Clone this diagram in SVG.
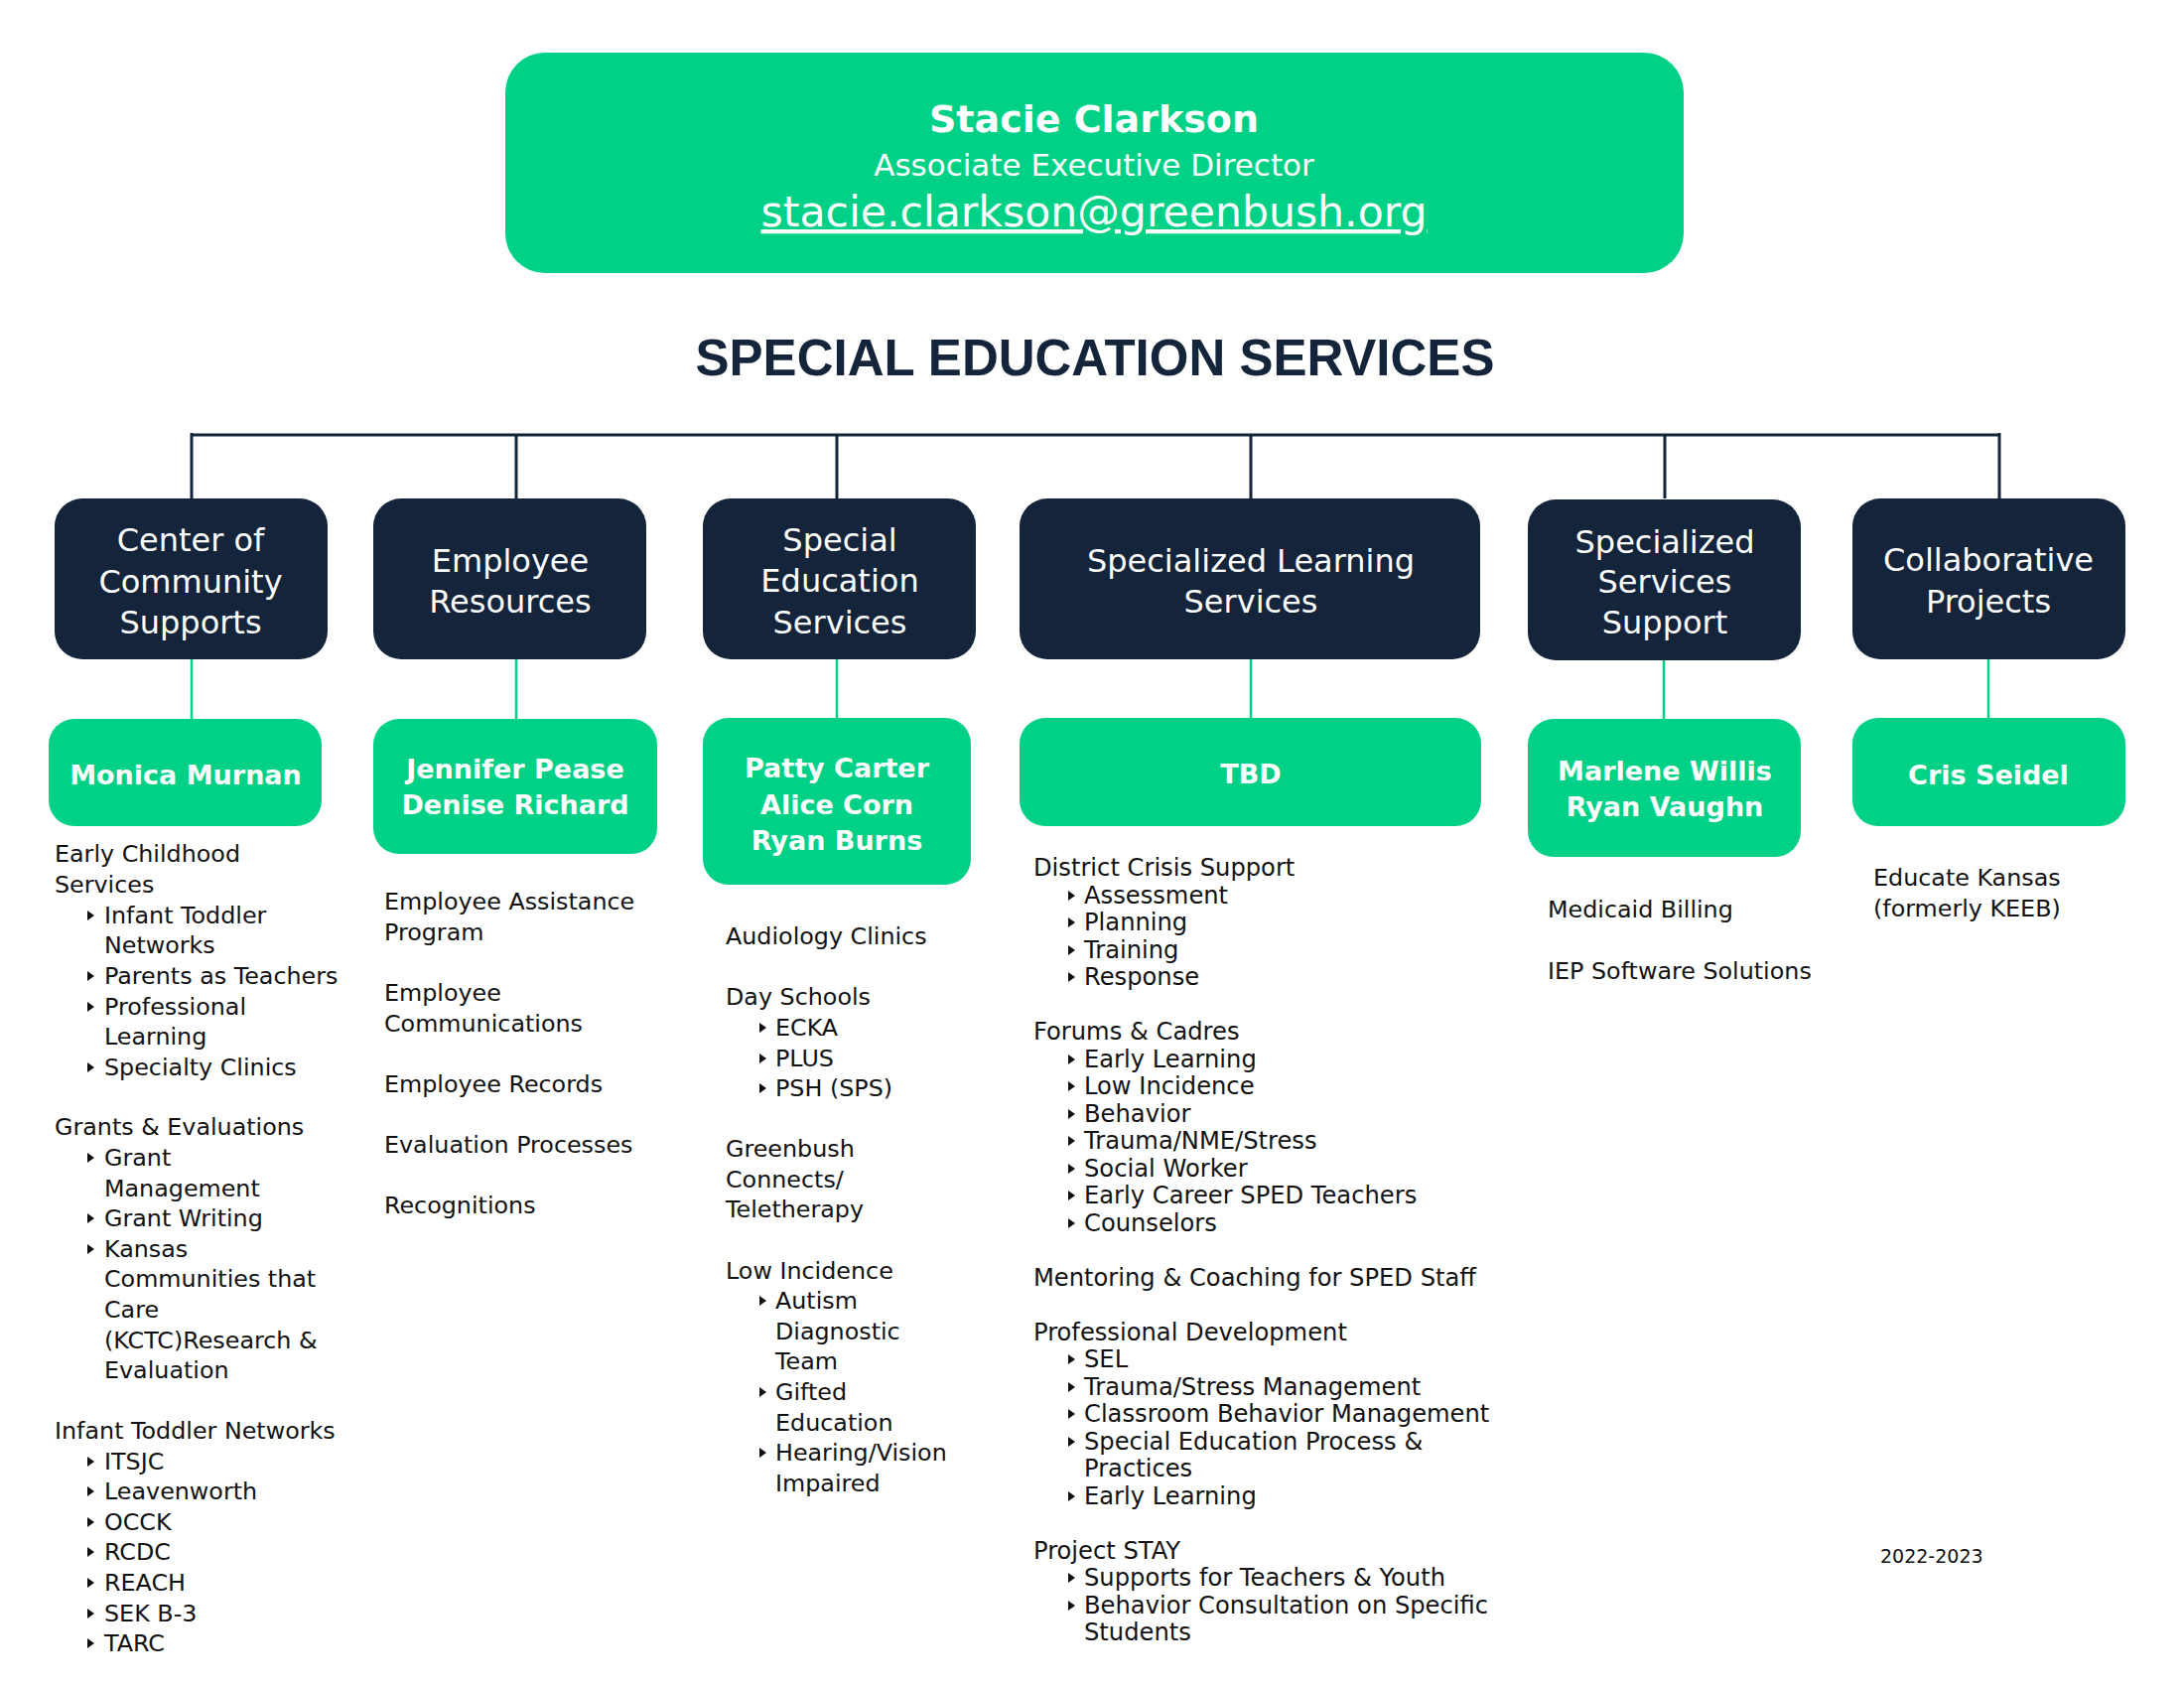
<svg xmlns="http://www.w3.org/2000/svg" width="2200" height="1700" viewBox="0 0 2200 1700">
<style>
.bg{fill:#ffffff}
.dark{fill:#14243A}
.green{fill:#00D186}
.dt{font-family:"DejaVu Sans",sans-serif;font-size:32px;fill:#ffffff;text-anchor:middle}
.gt{font-family:"DejaVu Sans",sans-serif;font-size:27px;font-weight:bold;fill:#ffffff;text-anchor:middle}
.bt{font-family:"DejaVu Sans",sans-serif;font-size:23.8px;fill:#111111}
.bt4{font-family:"DejaVu Sans",sans-serif;font-size:24.2px;fill:#111111}
.tline{stroke:#14243A;stroke-width:3;fill:none}
.gline{stroke:#00D186;stroke-width:2.5;fill:none}
</style>
<defs>
<polygon id="tri" points="0,-5 7,0 0,5" fill="#111111"/>
</defs>
<rect class="bg" x="0" y="0" width="2200" height="1700"/>

<g id="connectors">
<path class="tline" d="M192,438 H2015"/>
<path class="tline" d="M193,436 V502 M520,438 V502 M843,438 V502 M1260,438 V502 M1677,438 V502 M2014,436 V502"/>
<path class="gline" d="M193,664 V724 M520,664 V724 M843,664 V724 M1260,664 V724 M1676,664 V724 M2003,664 V724"/>
</g>

<g id="top">
<rect class="green" x="509" y="53" width="1187" height="222" rx="40"/>
<text x="1102" y="133" font-family="'DejaVu Sans',sans-serif" font-size="38" font-weight="bold" fill="#fff" text-anchor="middle">Stacie Clarkson</text>
<text x="1102" y="177" font-family="'DejaVu Sans',sans-serif" font-size="31" fill="#fff" text-anchor="middle">Associate Executive Director</text>
<text x="1102" y="228" font-family="'DejaVu Sans',sans-serif" font-size="42.6" fill="#fff" text-anchor="middle" text-decoration="underline">stacie.clarkson@greenbush.org</text>
</g>

<g id="title">
<text x="1103" y="378" font-family="'Liberation Sans',Arial,sans-serif" font-size="51" font-weight="bold" fill="#14243A" text-anchor="middle">SPECIAL EDUCATION SERVICES</text>
</g>

<g id="dept-community">
<rect class="dark" x="55" y="502" width="275" height="162" rx="28"/>
<text class="dt" x="192" y="555">Center of</text>
<text class="dt" x="192" y="597">Community</text>
<text class="dt" x="192" y="638">Supports</text>
</g>
<g id="dept-employee">
<rect class="dark" x="376" y="502" width="275" height="162" rx="28"/>
<text class="dt" x="514" y="576">Employee</text>
<text class="dt" x="514" y="617">Resources</text>
</g>
<g id="dept-special">
<rect class="dark" x="708" y="502" width="275" height="162" rx="28"/>
<text class="dt" x="846" y="555">Special</text>
<text class="dt" x="846" y="596">Education</text>
<text class="dt" x="846" y="638">Services</text>
</g>
<g id="dept-learning">
<rect class="dark" x="1027" y="502" width="464" height="162" rx="28"/>
<text class="dt" x="1260" y="576">Specialized Learning</text>
<text class="dt" x="1260" y="617">Services</text>
</g>
<g id="dept-support">
<rect class="dark" x="1539" y="503" width="275" height="162" rx="28"/>
<text class="dt" x="1677" y="557">Specialized</text>
<text class="dt" x="1677" y="597">Services</text>
<text class="dt" x="1677" y="638">Support</text>
</g>
<g id="dept-collab">
<rect class="dark" x="1866" y="502" width="275" height="162" rx="28"/>
<text class="dt" x="2003" y="575">Collaborative</text>
<text class="dt" x="2003" y="617">Projects</text>
</g>

<g id="lead-monica">
<rect class="green" x="49" y="724" width="275" height="108" rx="26"/>
<text class="gt" x="187" y="790">Monica Murnan</text>
</g>
<g id="lead-jennifer">
<rect class="green" x="376" y="724" width="286" height="136" rx="26"/>
<text class="gt" x="519" y="784">Jennifer Pease</text>
<text class="gt" x="519" y="820">Denise Richard</text>
</g>
<g id="lead-patty">
<rect class="green" x="708" y="723" width="270" height="168" rx="26"/>
<text class="gt" x="843" y="783">Patty Carter</text>
<text class="gt" x="843" y="820">Alice Corn</text>
<text class="gt" x="843" y="856">Ryan Burns</text>
</g>
<g id="lead-tbd">
<rect class="green" x="1027" y="723" width="465" height="109" rx="26"/>
<text class="gt" x="1260" y="789">TBD</text>
</g>
<g id="lead-marlene">
<rect class="green" x="1539" y="724" width="275" height="139" rx="26"/>
<text class="gt" x="1677" y="786">Marlene Willis</text>
<text class="gt" x="1677" y="822">Ryan Vaughn</text>
</g>
<g id="lead-cris">
<rect class="green" x="1866" y="723" width="275" height="109" rx="26"/>
<text class="gt" x="2003" y="790">Cris Seidel</text>
</g>

<g id="list-community" class="bt">
<text x="55" y="868">Early Childhood</text>
<text x="55" y="899">Services</text>
<use href="#tri" x="88" y="922"/><text x="105" y="930">Infant Toddler</text>
<text x="105" y="960">Networks</text>
<use href="#tri" x="88" y="983"/><text x="105" y="991">Parents as Teachers</text>
<use href="#tri" x="88" y="1014"/><text x="105" y="1022">Professional</text>
<text x="105" y="1052">Learning</text>
<use href="#tri" x="88" y="1075"/><text x="105" y="1083">Specialty Clinics</text>
<text x="55" y="1143">Grants &amp; Evaluations</text>
<use href="#tri" x="88" y="1166"/><text x="105" y="1174">Grant</text>
<text x="105" y="1205">Management</text>
<use href="#tri" x="88" y="1227"/><text x="105" y="1235">Grant Writing</text>
<use href="#tri" x="88" y="1258"/><text x="105" y="1266">Kansas</text>
<text x="105" y="1296">Communities that</text>
<text x="105" y="1327">Care</text>
<text x="105" y="1358">(KCTC)Research &amp;</text>
<text x="105" y="1388">Evaluation</text>
<text x="55" y="1449">Infant Toddler Networks</text>
<use href="#tri" x="88" y="1472"/><text x="105" y="1480">ITSJC</text>
<use href="#tri" x="88" y="1502"/><text x="105" y="1510">Leavenworth</text>
<use href="#tri" x="88" y="1533"/><text x="105" y="1541">OCCK</text>
<use href="#tri" x="88" y="1563"/><text x="105" y="1571">RCDC</text>
<use href="#tri" x="88" y="1594"/><text x="105" y="1602">REACH</text>
<use href="#tri" x="88" y="1625"/><text x="105" y="1633">SEK B-3</text>
<use href="#tri" x="88" y="1655"/><text x="105" y="1663">TARC</text>
</g>

<g id="list-employee" class="bt">
<text x="387" y="916">Employee Assistance</text>
<text x="387" y="947">Program</text>
<text x="387" y="1008">Employee</text>
<text x="387" y="1039">Communications</text>
<text x="387" y="1100">Employee Records</text>
<text x="387" y="1161">Evaluation Processes</text>
<text x="387" y="1222">Recognitions</text>
</g>

<g id="list-special" class="bt">
<text x="731" y="951">Audiology Clinics</text>
<text x="731" y="1012">Day Schools</text>
<use href="#tri" x="765" y="1035"/><text x="781" y="1043">ECKA</text>
<use href="#tri" x="765" y="1066"/><text x="781" y="1074">PLUS</text>
<use href="#tri" x="765" y="1096"/><text x="781" y="1104">PSH (SPS)</text>
<text x="731" y="1165">Greenbush</text>
<text x="731" y="1196">Connects/</text>
<text x="731" y="1226">Teletherapy</text>
<text x="731" y="1288">Low Incidence</text>
<use href="#tri" x="765" y="1310"/><text x="781" y="1318">Autism</text>
<text x="781" y="1349">Diagnostic</text>
<text x="781" y="1379">Team</text>
<use href="#tri" x="765" y="1402"/><text x="781" y="1410">Gifted</text>
<text x="781" y="1441">Education</text>
<use href="#tri" x="765" y="1463"/><text x="781" y="1471">Hearing/Vision</text>
<text x="781" y="1502">Impaired</text>
</g>

<g id="list-learning" class="bt4">
<text x="1041" y="882">District Crisis Support</text>
<use href="#tri" x="1076" y="902"/><text x="1092" y="910">Assessment</text>
<use href="#tri" x="1076" y="929"/><text x="1092" y="937">Planning</text>
<use href="#tri" x="1076" y="957"/><text x="1092" y="965">Training</text>
<use href="#tri" x="1076" y="984"/><text x="1092" y="992">Response</text>
<text x="1041" y="1047">Forums &amp; Cadres</text>
<use href="#tri" x="1076" y="1067"/><text x="1092" y="1075">Early Learning</text>
<use href="#tri" x="1076" y="1094"/><text x="1092" y="1102">Low Incidence</text>
<use href="#tri" x="1076" y="1122"/><text x="1092" y="1130">Behavior</text>
<use href="#tri" x="1076" y="1149"/><text x="1092" y="1157">Trauma/NME/Stress</text>
<use href="#tri" x="1076" y="1177"/><text x="1092" y="1185">Social Worker</text>
<use href="#tri" x="1076" y="1204"/><text x="1092" y="1212">Early Career SPED Teachers</text>
<use href="#tri" x="1076" y="1232"/><text x="1092" y="1240">Counselors</text>
<text x="1041" y="1295">Mentoring &amp; Coaching for SPED Staff</text>
<text x="1041" y="1350">Professional Development</text>
<use href="#tri" x="1076" y="1369"/><text x="1092" y="1377">SEL</text>
<use href="#tri" x="1076" y="1397"/><text x="1092" y="1405">Trauma/Stress Management</text>
<use href="#tri" x="1076" y="1424"/><text x="1092" y="1432">Classroom Behavior Management</text>
<use href="#tri" x="1076" y="1452"/><text x="1092" y="1460">Special Education Process &amp;</text>
<text x="1092" y="1487">Practices</text>
<use href="#tri" x="1076" y="1507"/><text x="1092" y="1515">Early Learning</text>
<text x="1041" y="1570">Project STAY</text>
<use href="#tri" x="1076" y="1589"/><text x="1092" y="1597">Supports for Teachers &amp; Youth</text>
<use href="#tri" x="1076" y="1617"/><text x="1092" y="1625">Behavior Consultation on Specific</text>
<text x="1092" y="1652">Students</text>
</g>

<g id="list-support" class="bt">
<text x="1559" y="924">Medicaid Billing</text>
<text x="1559" y="986">IEP Software Solutions</text>
</g>

<g id="list-collab" class="bt">
<text x="1887" y="892">Educate Kansas</text>
<text x="1887" y="923">(formerly KEEB)</text>
</g>

<g id="year">
<text x="1894" y="1574" font-family="'DejaVu Sans',sans-serif" font-size="19" fill="#111111">2022-2023</text>
</g>
</svg>
